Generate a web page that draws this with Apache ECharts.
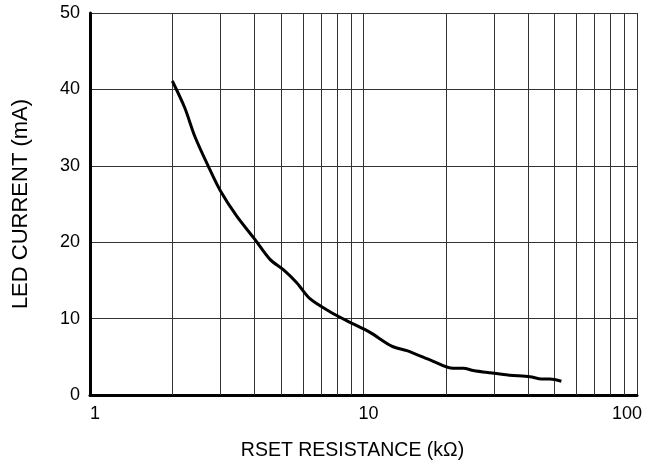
<!DOCTYPE html>
<html>
<head>
<meta charset="utf-8">
<script src="https://cdn.jsdelivr.net/npm/echarts@6/dist/echarts.min.js"></script>
<style>html,body{margin:0;padding:0;background:#fff}#c{width:657px;height:466px}</style>
</head>
<body>
<div id="c"></div>
<script>
var resistance = [2.0, 2.22, 2.42, 2.71, 3.0, 3.44, 4.0, 4.55, 5.09, 5.7, 6.37, 7.54, 8.93, 10.56, 12.68, 14.4, 17.5, 21.3, 23.2, 25.2, 29.0, 34.2, 40.6, 44.8, 48.1, 52.9];
var current = [41.1, 37.6, 33.8, 29.9, 26.7, 23.4, 20.4, 17.75, 16.4, 14.7, 12.6, 10.9, 9.5, 8.2, 6.4, 5.8, 4.6, 3.5, 3.5, 3.2, 2.9, 2.6, 2.4, 2.1, 2.1, 1.8];
var xMinorGrid = [2, 3, 4, 5, 6, 7, 8, 9, 20, 30, 40, 50, 60, 70, 80, 90];
var xTickLabels = ['1', '10', '100'];

var chart = echarts.init(document.getElementById('c'));
var font = 'Liberation Sans, Arial, Helvetica, sans-serif';
chart.setOption({
  animation: false,
  grid: { left: 90, right: 20, top: 13, bottom: 70 },
  xAxis: {
    type: 'log', logBase: 10, min: 1, max: 100,
    name: 'RSET RESISTANCE (kΩ)', nameLocation: 'middle', nameGap: 46,
    nameTextStyle: { fontFamily: font, fontSize: 19.5, color: '#000', padding: [0, 22, 0, 0] },
    axisLine: { show: true, onZero: false, lineStyle: { color: '#000', width: 3 } },
    axisTick: { show: false },
    axisLabel: {
      fontFamily: font, fontSize: 18, color: '#000', margin: 10, showMaxLabel: true, showMinLabel: true,
      formatter: function (v) {
        var s = String(Math.round(v));
        if (s === xTickLabels[2]) return '{r|' + s + '}';
        return '{l|' + s + '}';
      },
      rich: {
        l: { fontFamily: font, fontSize: 18, color: '#000', padding: [0, 0, 0, 10] },
        r: { fontFamily: font, fontSize: 18, color: '#000', padding: [0, 20, 0, 0] }
      }
    },
    splitLine: { show: true, lineStyle: { color: '#333', width: 1 } }
  },
  yAxis: {
    type: 'value', min: 0, max: 50, interval: 10,
    name: 'LED CURRENT (mA)', nameLocation: 'middle', nameGap: 58,
    nameTextStyle: { fontFamily: font, fontSize: 22, color: '#000' },
    axisLine: { show: true, lineStyle: { color: '#000', width: 3 } },
    axisTick: { show: false },
    axisLabel: { fontFamily: font, fontSize: 18, color: '#000', margin: 10 },
    splitLine: { show: true, lineStyle: { color: '#333', width: 1 } }
  },
  series: [{
    type: 'line',
    data: resistance.map(function (r, i) { return [r, current[i]]; }),
    smooth: 0.3,
    showSymbol: false,
    lineStyle: { color: '#000', width: 3 },
    z: 5,
    markLine: {
      silent: true,
      symbol: 'none',
      label: { show: false },
      lineStyle: { color: '#333', width: 1, type: 'solid' },
      data: xMinorGrid.map(function (v) { return { xAxis: v }; }),
      z: 1
    }
  }]
});
</script>
</body>
</html>
